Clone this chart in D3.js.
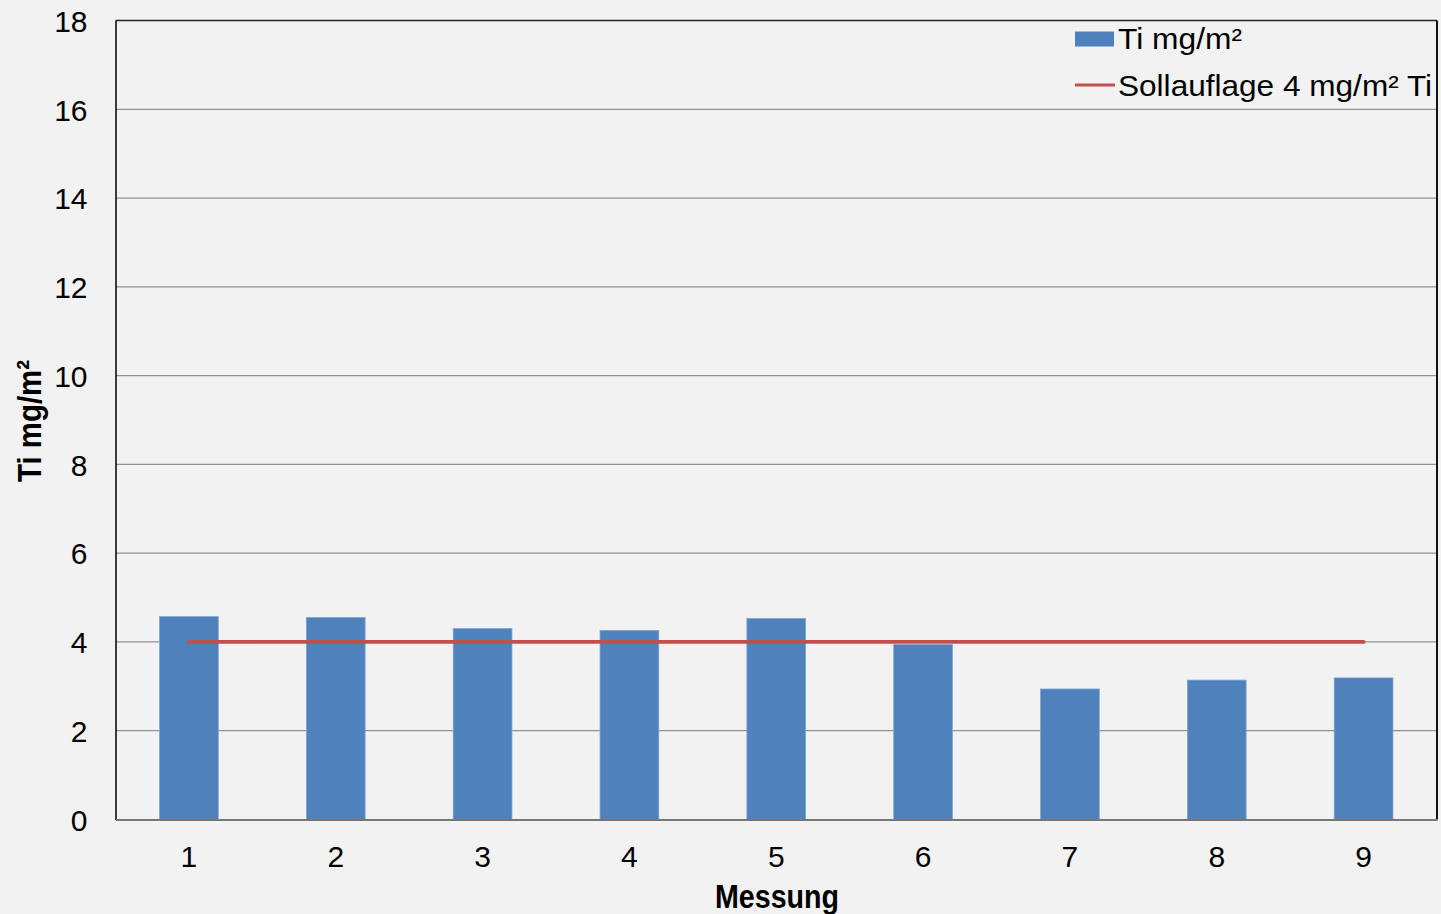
<!DOCTYPE html>
<html><head><meta charset="utf-8">
<script src="https://cdn.jsdelivr.net/npm/d3@7"></script>
<style>
html,body{margin:0;padding:0;background:#f2f2f2;}
svg{display:block;}
text{font-family:"Liberation Sans",Arial,sans-serif;fill:#000;}
</style></head><body>
<svg id="c" width="1441" height="914"></svg>
<script>
const categories = ["1","2","3","4","5","6","7","8","9"];
const tiValues = [4.57, 4.55, 4.30, 4.26, 4.53, 3.94, 2.94, 3.14, 3.19];
const sollValues = [4, 4, 4, 4, 4, 4, 4, 4, 4];
const yTicks = [0, 2, 4, 6, 8, 10, 12, 14, 16, 18];
const seriesNames = ["Ti mg/m²", "Sollauflage 4 mg/m² Ti"];
const yTitle = "Ti mg/m²";
const xTitle = "Messung";

const svg = d3.select("#c");
const L = 115.5, R = 1437, T = 20.5, B = 819.5;
const x = d3.scaleBand().domain(categories).range([L, R]).paddingInner(0.6).paddingOuter(0.3);
const y = d3.scaleLinear().domain([0, 18]).range([B, T]);

svg.append("rect").attr("width", 1441).attr("height", 914).attr("fill", "#f2f2f2");

// gridlines
svg.append("g").selectAll("line").data(yTicks.filter(d => d > 0 && d < 18)).join("line")
  .attr("x1", L).attr("x2", R).attr("y1", d => y(d)).attr("y2", d => y(d))
  .attr("stroke", "#929292").attr("stroke-width", 1.3);

// bars
svg.append("g").selectAll("rect").data(tiValues).join("rect")
  .attr("x", (d, i) => x(categories[i])).attr("width", x.bandwidth())
  .attr("y", d => y(d)).attr("height", d => y(0) - y(d))
  .attr("fill", "#4f81bd").attr("stroke", "#7fa3d1").attr("stroke-width", 0.8);

// target line
const line = d3.line().x((d, i) => x(categories[i]) + x.bandwidth() / 2).y(d => y(d));
svg.append("path").datum(sollValues).attr("d", line)
  .attr("fill", "none").attr("stroke", "#c0504d").attr("stroke-width", 3.8).attr("stroke-linecap", "round");

// borders
svg.append("line").attr("x1", L).attr("x2", R).attr("y1", T).attr("y2", T).attr("stroke", "#222").attr("stroke-width", 1.5);
svg.append("line").attr("x1", R).attr("x2", R).attr("y1", T).attr("y2", B).attr("stroke", "#111").attr("stroke-width", 2);

// y axis
const yAxis = svg.append("g").attr("transform", `translate(${L},0)`)
  .call(d3.axisLeft(y).tickValues(yTicks).tickSize(0).tickPadding(28).tickFormat(d3.format("d")));
yAxis.select(".domain").attr("stroke", "#000").attr("stroke-width", 1.5);
yAxis.selectAll("text").attr("font-size", 30).attr("font-family", "Liberation Sans, Arial, sans-serif").attr("dy", "0.36em");

// x axis
const xAxis = svg.append("g").attr("transform", `translate(0,${B})`)
  .call(d3.axisBottom(x).tickSize(0).tickPadding(26));
xAxis.select(".domain").attr("stroke", "#777").attr("stroke-width", 2);
xAxis.selectAll("text").attr("font-size", 30).attr("font-family", "Liberation Sans, Arial, sans-serif").attr("dy", "0.71em");

// titles
svg.append("text").attr("transform", "translate(41,421) rotate(-90)")
  .attr("text-anchor", "middle").attr("font-weight", "bold").attr("font-size", 33)
  .attr("textLength", 122).attr("lengthAdjust", "spacingAndGlyphs").text(yTitle);
svg.append("text").attr("x", 777).attr("y", 908)
  .attr("text-anchor", "middle").attr("font-weight", "bold").attr("font-size", 34)
  .attr("textLength", 124).attr("lengthAdjust", "spacingAndGlyphs").text(xTitle);

// legend
const lg = svg.append("g");
lg.append("rect").attr("x", 1075).attr("y", 31.5).attr("width", 39).attr("height", 15).attr("fill", "#4f81bd");
lg.append("text").attr("x", 1118).attr("y", 49).attr("font-size", 29)
  .attr("textLength", 124).attr("lengthAdjust", "spacingAndGlyphs").text(seriesNames[0]);
lg.append("line").attr("x1", 1075).attr("x2", 1115).attr("y1", 85).attr("y2", 85)
  .attr("stroke", "#c0504d").attr("stroke-width", 3);
lg.append("text").attr("x", 1118).attr("y", 96).attr("font-size", 29)
  .attr("textLength", 314).attr("lengthAdjust", "spacingAndGlyphs").text(seriesNames[1]);
</script>
</body></html>
